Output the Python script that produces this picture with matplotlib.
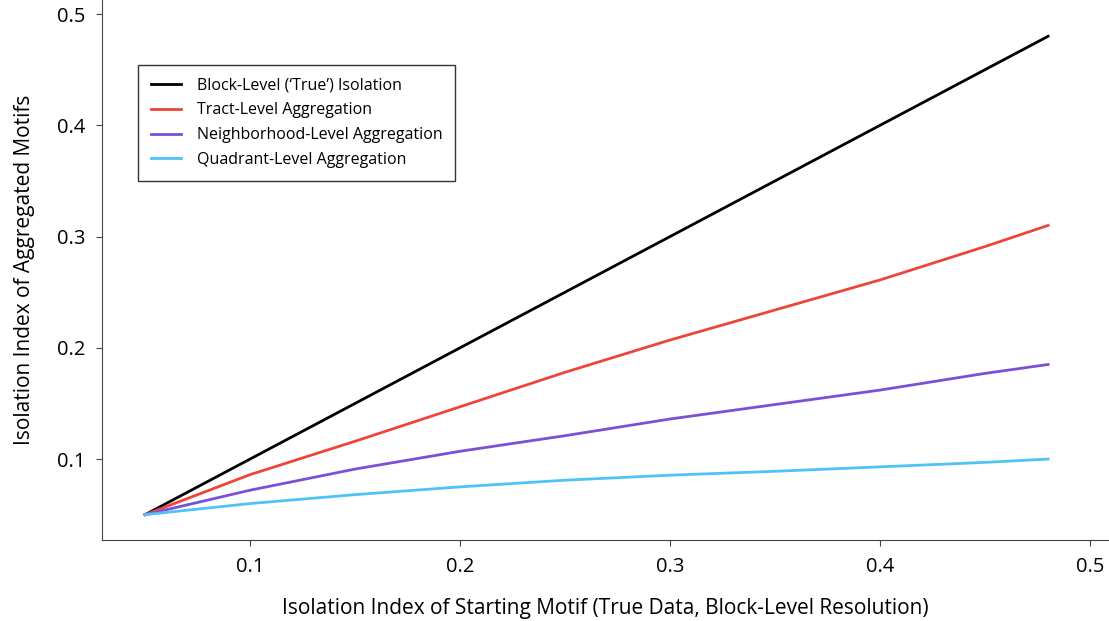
import numpy as np
import matplotlib.pyplot as plt

plt.rcParams['font.family'] = ['Open Sans', 'DejaVu Sans']

# starting motif isolation (block-level)
x_vals = [0.05, 0.10, 0.15, 0.20, 0.25, 0.30, 0.35, 0.40, 0.45, 0.48]
block_iso = [0.05, 0.10, 0.15, 0.20, 0.25, 0.30, 0.35, 0.40, 0.45, 0.48]
tract_iso = [0.05, 0.086, 0.116, 0.147, 0.178, 0.207, 0.234, 0.261, 0.291, 0.310]
neigh_iso = [0.05, 0.072, 0.091, 0.107, 0.121, 0.136, 0.149, 0.162, 0.177, 0.185]
quad_iso = [0.05, 0.060, 0.068, 0.075, 0.081, 0.0855, 0.089, 0.093, 0.097, 0.100]

labels = ["Block-Level (\u2018True\u2019) Isolation", "Tract-Level Aggregation",
          "Neighborhood-Level Aggregation", "Quadrant-Level Aggregation"]
colors = ["#000000", "#ef4538", "#7b50d8", "#4fc3f7"]

fig = plt.figure(figsize=(11.09, 6.21), dpi=100)
ax = fig.add_axes([0.092, 0.13, 0.908, 0.87])

for ys, lab, c in zip([block_iso, tract_iso, neigh_iso, quad_iso], labels, colors):
    ax.plot(x_vals, ys, color=c, lw=2, label=lab)

ax.set_xlim(0.0295, 0.509)
ax.set_ylim(0.027, 0.5126)
ax.set_xticks([0.1, 0.2, 0.3, 0.4, 0.5])
ax.set_yticks([0.1, 0.2, 0.3, 0.4, 0.5])
ax.set_xticklabels(["0.1", "0.2", "0.3", "0.4", "0.5"])
ax.set_yticklabels(["0.1", "0.2", "0.3", "0.4", "0.5"])
ax.tick_params(labelsize=14.5, length=4, width=0.8, pad=8, colors='#444444', labelcolor='black')
ax.spines['top'].set_visible(False)
ax.spines['right'].set_visible(False)
for s in ['left', 'bottom']:
    ax.spines[s].set_linewidth(0.8)
    ax.spines[s].set_color('#444444')

ax.set_xlabel("Isolation Index of Starting Motif (True Data, Block-Level Resolution)",
              fontsize=15, labelpad=15)
ax.set_ylabel("Isolation Index of Aggregated Motifs", fontsize=15, labelpad=16)

leg = ax.legend(loc='upper left', bbox_to_anchor=(0.0357, 0.88), fontsize=11.5,
                frameon=True, fancybox=False, edgecolor='black', handlelength=1.9,
                handletextpad=1.0, borderpad=0.8, labelspacing=0.55, borderaxespad=0)
leg.get_frame().set_linewidth(1.0)

fig.savefig("out.png", dpi=100)
